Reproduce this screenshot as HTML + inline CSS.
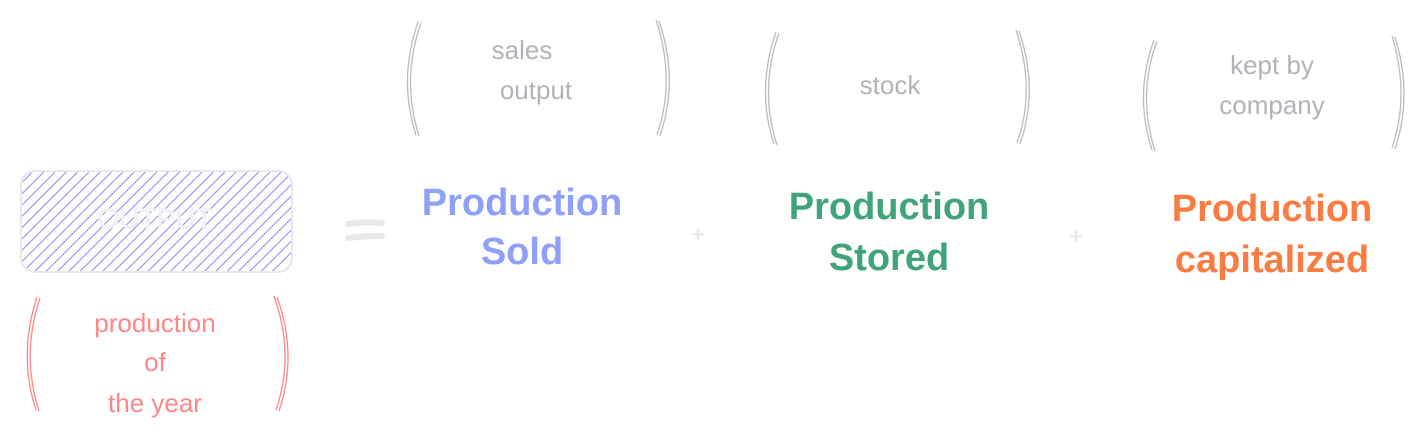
<!DOCTYPE html>
<html><head><meta charset="utf-8"><style>
html,body{margin:0;padding:0;background:#fff;width:1423px;height:444px;overflow:hidden}
svg text{font-family:"Liberation Sans",sans-serif;text-anchor:middle}
</style></head><body>
<svg width="1423" height="444" viewBox="0 0 1423 444" xmlns="http://www.w3.org/2000/svg">
<defs>
<pattern id="h" patternUnits="userSpaceOnUse" width="8" height="8" patternTransform="rotate(45)">
<line x1="0" y1="0" x2="0" y2="8" stroke="#9d7ff2" stroke-width="2"/>
</pattern>
</defs>
<rect x="22" y="172" width="270" height="100" rx="14" fill="url(#h)"/>
<rect x="21" y="171" width="271" height="101" rx="14" fill="none" stroke="#e8e8e8" stroke-width="2"/>
<text x="155" y="228" font-size="28" fill="#f4f4f4" stroke="#eee" stroke-width="1">OUTPUT</text>
<path d="M348 224 Q365 221 382 223 M348 238 Q365 236 382 236" stroke="#e8e8e8" stroke-width="6" stroke-linecap="round" fill="none"/>
<g font-size="38" font-weight="bold">
<text x="522" y="215" fill="#8fa0f8">Production</text>
<text x="522" y="264" fill="#8fa0f8">Sold</text>
<text x="889" y="219" fill="#40a47a">Production</text>
<text x="889" y="270" fill="#40a47a">Stored</text>
<text x="1272" y="221" fill="#fa7c40">Production</text>
<text x="1272" y="272" fill="#fa7c40">capitalized</text>
</g>
<g font-size="22" fill="#e8e8e8" font-weight="bold"><text x="698" y="242">+</text><text x="1076" y="244">+</text></g>
<g fill="none" stroke="#b8bcc0" stroke-width="1.3">
<path d="M418 22 Q398 80 416 135 M421 23 Q401 80 419 136"/>
<path d="M656 20 Q676 80 657 135 M659 21 Q679 80 660 136"/>
<path d="M776 32 Q756 90 774 144 M779 33 Q759 90 777 145"/>
<path d="M1016 30 Q1036 90 1017 143 M1019 31 Q1039 90 1020 144"/>
<path d="M1154 40 Q1134 95 1152 150 M1157 41 Q1137 95 1155 151"/>
<path d="M1392 36 Q1410 95 1392 148 M1395 37 Q1413 95 1395 149"/>
</g>
<g fill="none" stroke="#ff8787" stroke-width="1.3">
<path d="M37 297 Q18 355 36 410 M40 298 Q21 355 39 411"/>
<path d="M274 296 Q295 355 276 410 M277 297 Q298 355 279 411"/>
</g>
<g font-size="26" fill="#b0b4b8">
<text x="522" y="59">sales</text><text x="536" y="99">output</text>
<text x="890" y="94">stock</text>
<text x="1272" y="74">kept by</text><text x="1272" y="114">company</text>
</g>
<g font-size="26" fill="#ff8787">
<text x="155" y="332">production</text><text x="155" y="371">of</text><text x="155" y="412">the year</text>
</g>
</svg>
</body></html>
